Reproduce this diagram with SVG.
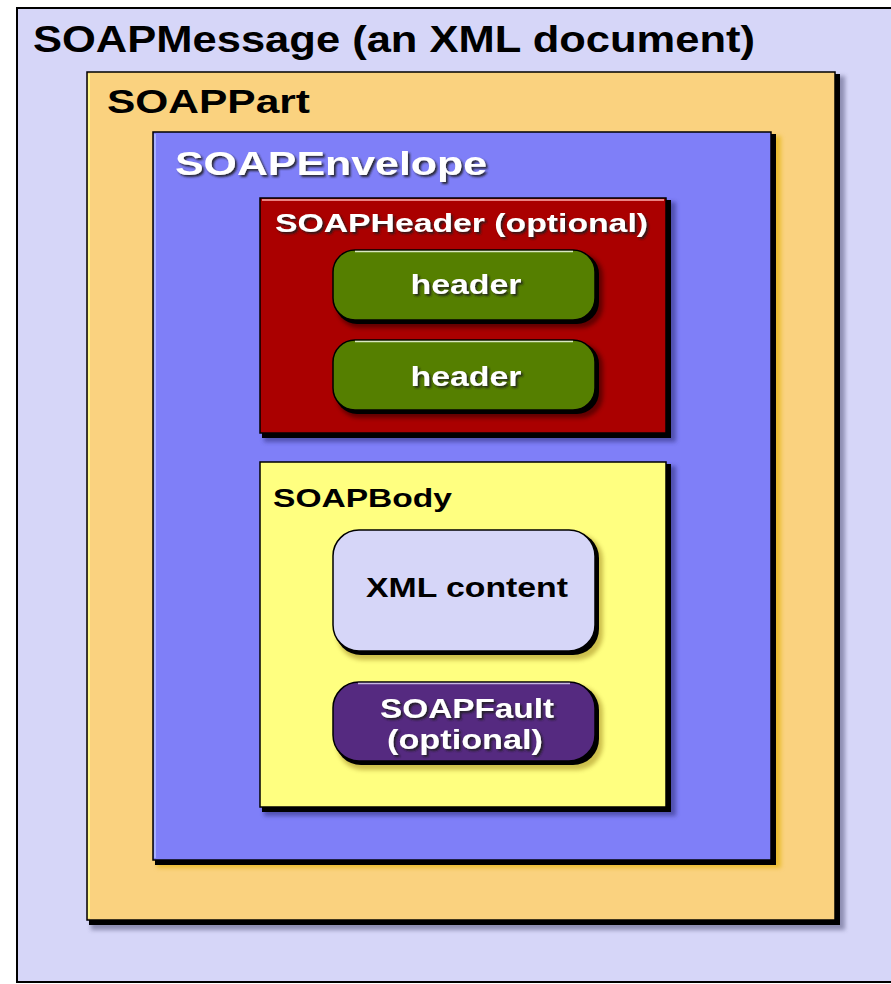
<svg xmlns="http://www.w3.org/2000/svg" width="891" height="984" viewBox="0 0 891 984">
<defs>
<filter id="soft" x="-10%" y="-10%" width="130%" height="130%"><feGaussianBlur stdDeviation="2"/></filter>
<filter id="ts" x="-5%" y="-20%" width="115%" height="160%"><feDropShadow dx="2" dy="2" stdDeviation="0.8" flood-color="#1a1a1a" flood-opacity="0.9"/></filter>
</defs>
<style>
.t{font-family:"Liberation Sans",Arial,sans-serif;font-weight:bold}
.blk{fill:#000}
.sh{fill:#4a4a70;opacity:0.5}
</style>
<rect width="891" height="984" fill="#fff"/>
<g id="soapmessage">
<rect x="17" y="8" width="880" height="974" fill="#d6d6f8" stroke="#000" stroke-width="2"/>
<text class="t" x="33" y="52" font-size="36" textLength="722" lengthAdjust="spacingAndGlyphs" fill="#000">SOAPMessage (an XML document)</text>
</g>
<g id="soappart">
<rect class="sh" x="91" y="76" width="754" height="854" filter="url(#soft)"/>
<rect class="blk" x="89" y="74" width="751" height="851"/>
<rect x="87" y="72" width="748" height="848" fill="#fad27f" stroke="#000" stroke-width="1.5"/>
<line x1="89" y1="74" x2="89" y2="918" stroke="#fff68a" stroke-width="2"/>
<text class="t" x="107" y="113" font-size="34" textLength="203" lengthAdjust="spacingAndGlyphs" fill="#000">SOAPPart</text>
</g>
<g id="soapenvelope">
<rect x="157" y="136" width="624" height="732" fill="#e0b000" opacity="0.6" filter="url(#soft)"/>
<rect class="blk" x="155" y="134" width="621" height="731"/>
<rect x="153" y="132" width="618" height="728" fill="#7f7ff8" stroke="#000" stroke-width="1.5"/>
<line x1="155" y1="134" x2="155" y2="858" stroke="#a8b0ff" stroke-width="2"/>
<text x="175" y="175" font-size="34" class="t" fill="#fff" textLength="312" lengthAdjust="spacingAndGlyphs" filter="url(#ts)">SOAPEnvelope</text>
</g>
<g id="soapheader">
<rect x="264" y="202" width="412" height="240" fill="#303080" opacity="0.6" filter="url(#soft)"/>
<rect class="blk" x="262" y="200" width="409" height="238"/>
<rect x="260" y="198" width="406" height="235" fill="#aa0000" stroke="#000" stroke-width="1.5"/>
<line x1="262" y1="200" x2="664" y2="200" stroke="#ffb0b0" stroke-width="1.5"/>
<text x="275" y="232" font-size="26" class="t" fill="#fff" textLength="373" lengthAdjust="spacingAndGlyphs" filter="url(#ts)">SOAPHeader (optional)</text>
</g>
<g id="header1">
<rect x="337" y="254" width="266" height="74" rx="22" fill="#300" opacity="0.6" filter="url(#soft)"/>
<rect x="335" y="252" width="264" height="72" rx="22" fill="#000"/>
<rect x="333" y="250" width="262" height="70" rx="22" fill="#557f00" stroke="#000" stroke-width="1.5"/>
<path d="M355 251.5 H573" stroke="#d8e8c0" stroke-width="1.5"/>
<text x="466" y="294" font-size="28" class="t" fill="#fff" text-anchor="middle" textLength="111" lengthAdjust="spacingAndGlyphs" filter="url(#ts)">header</text>
</g>
<g id="header2">
<rect x="337" y="344" width="266" height="74" rx="22" fill="#300" opacity="0.6" filter="url(#soft)"/>
<rect x="335" y="342" width="264" height="72" rx="22" fill="#000"/>
<rect x="333" y="340" width="262" height="70" rx="22" fill="#557f00" stroke="#000" stroke-width="1.5"/>
<path d="M355 341.5 H573" stroke="#d8e8c0" stroke-width="1.5"/>
<text x="466" y="386" font-size="28" class="t" fill="#fff" text-anchor="middle" textLength="111" lengthAdjust="spacingAndGlyphs" filter="url(#ts)">header</text>
</g>
<g id="soapbody">
<rect x="264" y="466" width="412" height="350" fill="#303080" opacity="0.6" filter="url(#soft)"/>
<rect class="blk" x="262" y="464" width="409" height="348"/>
<rect x="260" y="462" width="406" height="345" fill="#ffff80" stroke="#000" stroke-width="1.5"/>
<text x="273" y="507" font-size="26" class="t" fill="#000" textLength="179" lengthAdjust="spacingAndGlyphs">SOAPBody</text>
</g>
<g id="xmlcontent">
<rect x="337" y="534" width="266" height="126" rx="26" fill="#806000" opacity="0.4" filter="url(#soft)"/>
<rect x="335" y="532" width="264" height="123" rx="26" fill="#000"/>
<rect x="333" y="530" width="262" height="121" rx="26" fill="#d6d6f8" stroke="#000" stroke-width="1.5"/>
<text x="467" y="597" font-size="27" class="t" fill="#000" text-anchor="middle" textLength="202" lengthAdjust="spacingAndGlyphs">XML content</text>
</g>
<g id="soapfault">
<rect x="337" y="686" width="266" height="84" rx="26" fill="#806000" opacity="0.4" filter="url(#soft)"/>
<rect x="335" y="684" width="264" height="81" rx="26" fill="#000"/>
<rect x="333" y="682" width="262" height="79" rx="26" fill="#552a80" stroke="#000" stroke-width="1.5"/>
<path d="M358 683.5 H570" stroke="#c8b8e0" stroke-width="1.5"/>
<text x="467" y="718" font-size="27" class="t" fill="#fff" text-anchor="middle" textLength="174" lengthAdjust="spacingAndGlyphs" filter="url(#ts)">SOAPFault</text>
<text x="465" y="749" font-size="27" class="t" fill="#fff" text-anchor="middle" textLength="156" lengthAdjust="spacingAndGlyphs" filter="url(#ts)">(optional)</text>
</g>
</svg>
